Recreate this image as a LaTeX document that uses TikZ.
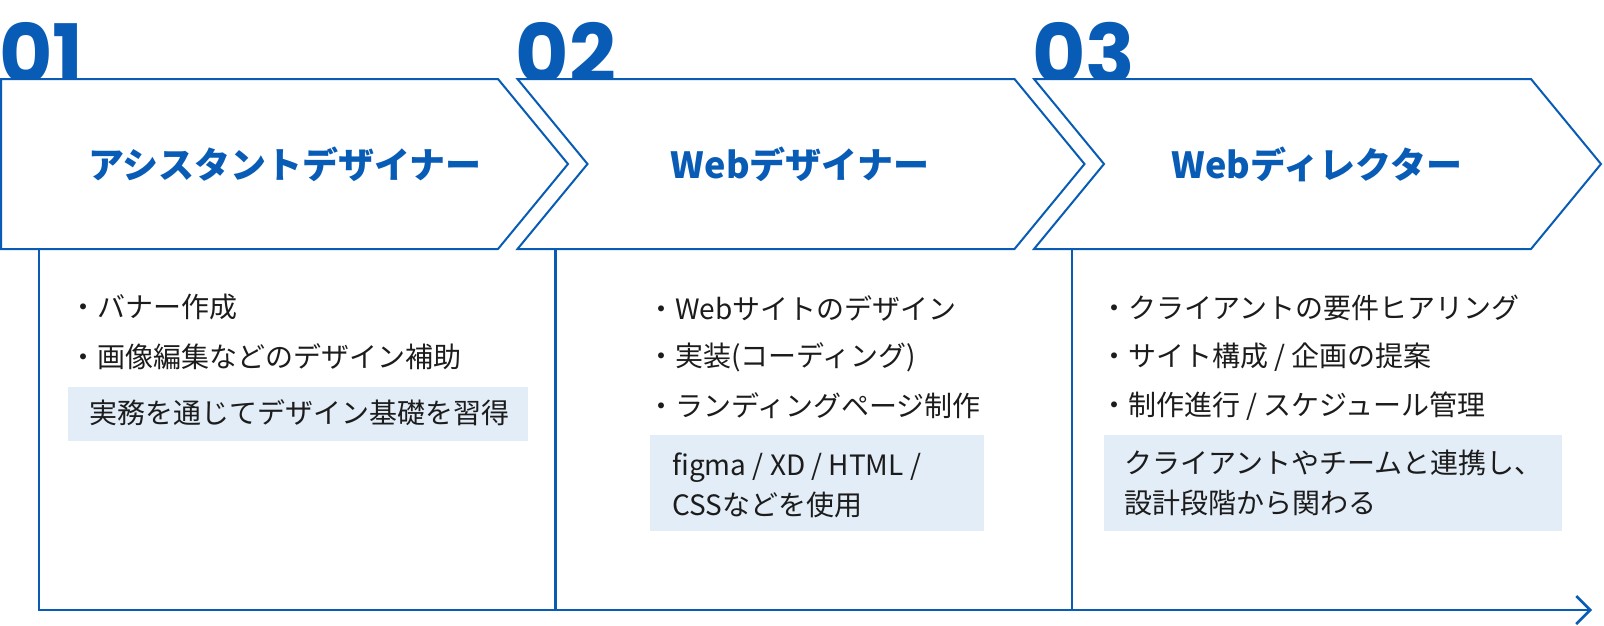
\documentclass[tikz,border=0pt]{standalone}
\usepackage{fontspec}
\setmainfont{Noto Sans CJK JP}
\newfontfamily\numfont{Poppins}
\usetikzlibrary{arrows.meta}
\definecolor{mainblue}{RGB}{8,92,182}
\definecolor{boxfill}{RGB}{227,237,247}
\definecolor{ink}{RGB}{28,28,28}
\tikzset{
  chev/.style={draw=mainblue, line width=2pt, fill=white, line join=miter},
  num/.style={anchor=base west, inner sep=0pt, text=mainblue, font=\numfont\bfseries\fontsize{82}{82}\selectfont},
  title/.style={inner sep=0pt, text=mainblue, font=\bfseries\fontsize{36}{40}\selectfont},
  item/.style={anchor=west, inner sep=0pt, text=ink, font=\fontsize{28}{33}\selectfont},
  notebox/.style={anchor=north west, fill=boxfill, inner sep=0pt},
  rail/.style={draw=mainblue, line width=2.5pt},
}
\begin{document}
\begin{tikzpicture}[x=1pt,y=-1pt]
\useasboundingbox (0,0) rectangle (1604,625);
% numbers
\node[num] (n1) at (-1,83) {01};
\node[num] (n2) at (515.5,83) {02};
\node[num] (n3) at (1032,83) {03};
% chevrons
\draw[chev] (1,79) -- (498,79) -- (568,164) -- (498,249) -- (1,249) -- cycle;
\draw[chev] (517.5,79) -- (1014.5,79) -- (1084.5,164) -- (1014.5,249) -- (517.5,249) -- (587.5,164) -- cycle;
\draw[chev] (1034,79) -- (1531,79) -- (1601,164) -- (1531,249) -- (1034,249) -- (1104,164) -- cycle;
\node[title] (t1) at (285,164) {アシスタントデザイナー};
\node[title] (t2) at (800,164) {Webデザイナー};
\node[title] (t3) at (1317,164) {Webディレクター};
% rails
\coordinate (v1) at (39,249);
\coordinate (v2) at (555.5,249);
\coordinate (v3) at (1072,249);
\coordinate (b1) at (39,610);
\coordinate (b2) at (555.5,610);
\coordinate (b3) at (1072,610);
\coordinate (bend) at (1592,610);
\draw[rail] (v2) -- (b2);
\draw[rail] (v3) -- (b3);
\draw[rail, -{Straight Barb[length=14pt,width=28pt,line width=2.5pt]}] (v1) -- (b1) -- (bend);
% boxes
\node[notebox, minimum width=460.5pt, minimum height=54pt] (ab) at (67.5,387) {};
\node[notebox, minimum width=334pt, minimum height=96pt] (cb) at (650,435) {};
\node[notebox, minimum width=458pt, minimum height=96pt] (db) at (1104,435) {};
% block 1
\node[item] (a1) at (69,307) {・バナー作成};
\node[item] (a2) at (69,357) {・画像編集などのデザイン補助};
\node[item] (a3) at (89,413) {実務を通じてデザイン基礎を習得};
% block 2
\node[item] (c1) at (647,308) {・Webサイトのデザイン};
\node[item] (c2) at (647,357) {・実装(コーディング)};
\node[item] (c3) at (647,406) {・ランディングページ制作};
\node[item] (c4) at (672,468) {figma / XD / HTML /};
\node[item] (c5) at (672,505) {CSSなどを使用};
% block 3
\node[item] (d1) at (1100,308) {・クライアントの要件ヒアリング};
\node[item] (d2) at (1100,357) {・サイト構成 / 企画の提案};
\node[item] (d3) at (1100,406) {・制作進行 / スケジュール管理};
\node[item] (d4) at (1124,463) {クライアントやチームと連携し、};
\node[item] (d5) at (1124,503) {設計段階から関わる};
\end{tikzpicture}
\end{document}
